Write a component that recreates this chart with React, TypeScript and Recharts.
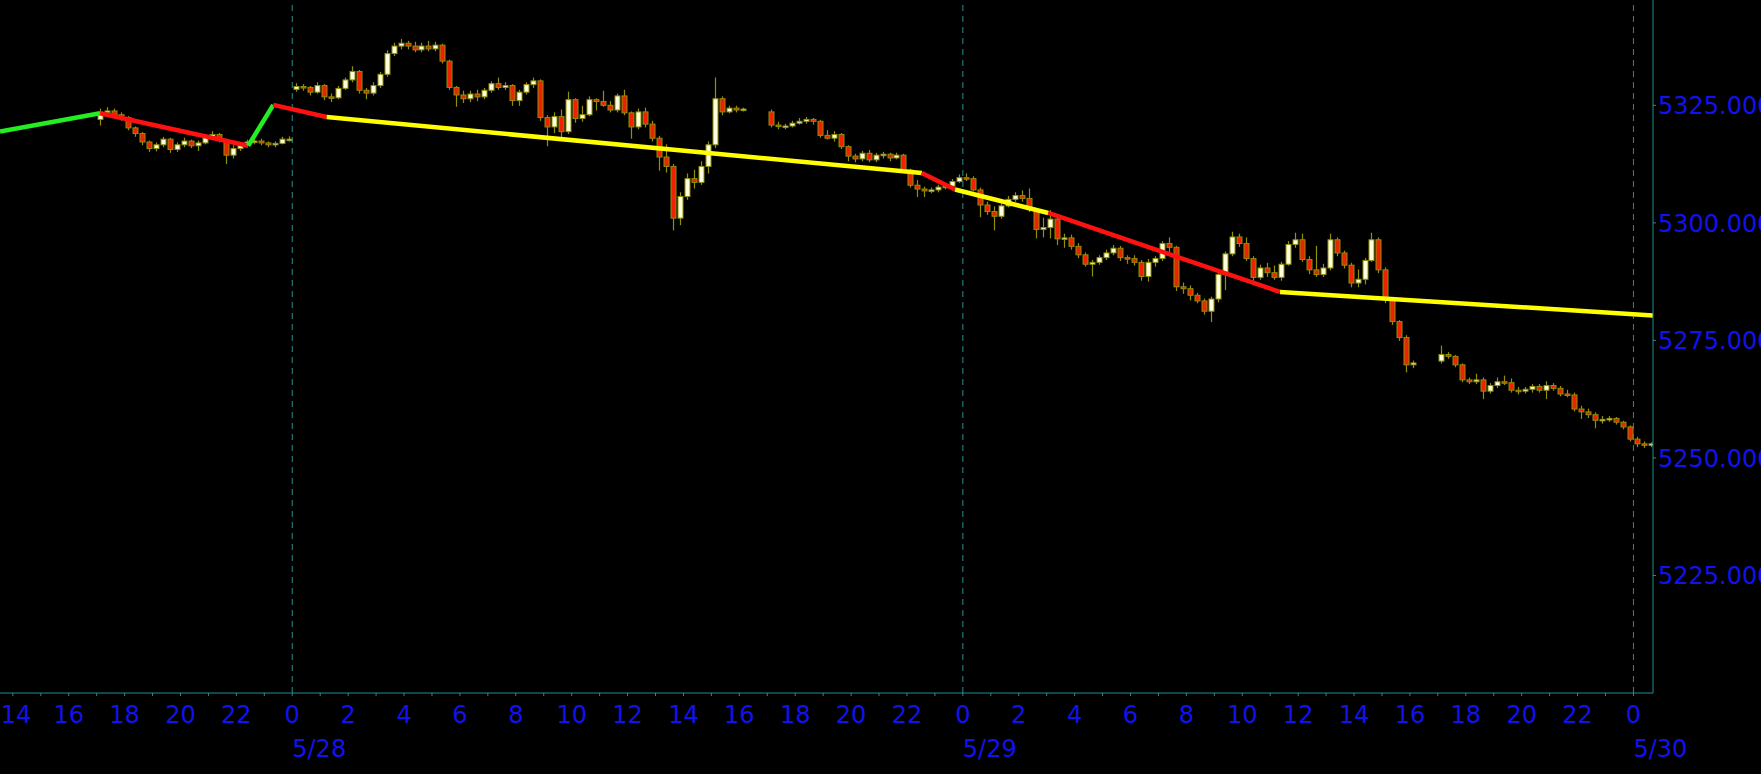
import React from 'react';
import { ComposedChart, Bar, Line, XAxis, YAxis, ReferenceLine } from 'recharts';

// [open, high, low, close], 15 minute bars
type OHLC = [number, number, number, number];

// session start, hours from 5/28 00:00
const sessionStarts = [-7, 0, 17, 41];

const session1: OHLC[] = [
  [5322.0, 5324.2, 5320.8, 5323.5], [5323.5, 5324.5, 5322.8, 5323.8], [5323.8, 5324.2, 5322.5, 5323.0],
  [5323.0, 5323.4, 5321.8, 5322.4], [5322.4, 5322.6, 5319.8, 5320.2], [5320.2, 5320.4, 5318.4, 5319.0],
  [5319.0, 5319.2, 5316.6, 5317.2], [5317.2, 5317.4, 5315.2, 5315.8], [5315.8, 5317.0, 5315.3, 5316.6],
  [5316.6, 5318.2, 5316.2, 5317.8], [5317.8, 5318.0, 5315.0, 5315.6], [5315.6, 5317.0, 5315.2, 5316.6],
  [5316.6, 5318.0, 5316.2, 5317.4], [5317.4, 5317.6, 5316.0, 5316.4], [5316.4, 5317.4, 5315.4, 5317.0],
  [5317.0, 5318.6, 5316.8, 5318.2], [5318.2, 5319.4, 5317.8, 5318.8], [5318.8, 5319.0, 5317.2, 5317.6],
  [5317.6, 5317.8, 5312.6, 5314.4], [5314.4, 5316.4, 5313.8, 5315.8], [5315.8, 5317.0, 5315.4, 5316.6],
  [5316.6, 5317.6, 5316.4, 5317.2], [5317.2, 5317.8, 5316.8, 5317.4], [5317.4, 5317.8, 5316.6, 5317.0],
  [5317.0, 5317.2, 5316.2, 5316.6], [5316.6, 5317.2, 5316.2, 5316.9], [5316.9, 5318.2, 5316.8, 5317.8],
  [5317.8, 5318.3, 5317.4, 5317.8],
];

const session2: OHLC[] = [
  [5328.4, 5329.6, 5328.0, 5329.0], [5329.0, 5329.4, 5328.2, 5328.8], [5328.8, 5329.0, 5327.2, 5327.8],
  [5327.8, 5329.8, 5327.6, 5329.2], [5329.2, 5329.4, 5326.2, 5326.8], [5326.8, 5327.4, 5325.8, 5326.6],
  [5326.6, 5329.0, 5326.4, 5328.6], [5328.6, 5330.8, 5328.4, 5330.4], [5330.4, 5333.2, 5330.0, 5332.2],
  [5332.2, 5332.4, 5327.6, 5328.2], [5328.2, 5328.6, 5326.4, 5327.6], [5327.6, 5329.8, 5327.2, 5329.2],
  [5329.2, 5332.0, 5328.8, 5331.6], [5331.6, 5336.6, 5331.2, 5336.0], [5336.0, 5338.2, 5335.6, 5337.6],
  [5337.6, 5339.0, 5337.0, 5338.2], [5338.2, 5338.6, 5337.0, 5337.6], [5337.6, 5338.4, 5336.4, 5336.8],
  [5336.8, 5338.2, 5336.4, 5337.6], [5337.6, 5338.6, 5336.6, 5337.0], [5337.0, 5338.4, 5336.6, 5337.8],
  [5337.8, 5338.0, 5334.0, 5334.4], [5334.4, 5334.6, 5328.4, 5328.8], [5328.8, 5329.0, 5324.8, 5327.2],
  [5327.2, 5328.0, 5325.6, 5326.4], [5326.4, 5328.0, 5325.8, 5327.4], [5327.4, 5328.2, 5326.0, 5326.8],
  [5326.8, 5328.6, 5326.4, 5328.2], [5328.2, 5330.0, 5327.8, 5329.6], [5329.6, 5330.8, 5328.4, 5328.8],
  [5328.8, 5329.8, 5328.4, 5329.2], [5329.2, 5329.4, 5325.0, 5326.0], [5326.0, 5328.2, 5325.0, 5327.8],
  [5327.8, 5329.8, 5327.4, 5329.4], [5329.4, 5330.8, 5328.8, 5330.2], [5330.2, 5330.4, 5321.8, 5322.4],
  [5322.4, 5322.8, 5316.4, 5320.4], [5320.4, 5323.4, 5319.2, 5322.6], [5322.6, 5324.0, 5318.2, 5319.4],
  [5319.4, 5327.8, 5319.0, 5326.2], [5326.2, 5326.4, 5321.4, 5322.2], [5322.2, 5324.8, 5321.6, 5323.0],
  [5323.0, 5326.8, 5322.8, 5326.2], [5326.2, 5326.4, 5324.0, 5325.8], [5325.8, 5328.0, 5324.8, 5325.0],
  [5325.0, 5325.8, 5323.6, 5324.0], [5324.0, 5327.4, 5323.6, 5327.0], [5327.0, 5328.2, 5323.0, 5323.4],
  [5323.4, 5323.6, 5318.0, 5320.4], [5320.4, 5324.2, 5320.0, 5323.6], [5323.6, 5324.4, 5320.4, 5321.0],
  [5321.0, 5321.6, 5317.4, 5318.0], [5318.0, 5318.4, 5311.2, 5314.0], [5314.0, 5316.6, 5310.8, 5312.0],
  [5312.0, 5312.4, 5298.5, 5301.0], [5301.0, 5306.4, 5299.6, 5305.6], [5305.6, 5310.4, 5305.0, 5309.4],
  [5309.4, 5311.2, 5307.4, 5308.6], [5308.6, 5313.0, 5308.2, 5312.0], [5312.0, 5317.2, 5310.6, 5316.6],
  [5316.6, 5330.8, 5316.0, 5326.4], [5326.4, 5326.8, 5323.0, 5323.6], [5323.6, 5324.8, 5323.4, 5324.4],
  [5324.4, 5324.8, 5323.6, 5324.0], [5324.0, 5324.4, 5323.8, 5324.2],
];

const session3: OHLC[] = [
  [5323.6, 5324.0, 5320.4, 5320.8], [5320.8, 5321.4, 5320.0, 5320.6], [5320.6, 5321.0, 5320.0, 5320.6],
  [5320.6, 5321.6, 5320.4, 5321.2], [5321.2, 5322.2, 5321.0, 5321.6], [5321.6, 5322.4, 5321.2, 5322.0],
  [5322.0, 5322.2, 5321.0, 5321.6], [5321.6, 5321.8, 5318.2, 5318.6], [5318.6, 5319.6, 5317.8, 5318.0],
  [5318.0, 5319.4, 5317.4, 5318.8], [5318.8, 5319.0, 5315.8, 5316.2], [5316.2, 5316.4, 5313.2, 5314.2],
  [5314.2, 5314.6, 5313.0, 5313.6], [5313.6, 5315.2, 5313.2, 5314.8], [5314.8, 5315.4, 5313.0, 5313.4],
  [5313.4, 5314.8, 5313.0, 5314.4], [5314.4, 5315.0, 5313.8, 5314.6], [5314.6, 5314.8, 5313.2, 5313.8],
  [5313.8, 5314.8, 5313.6, 5314.4], [5314.4, 5314.6, 5311.0, 5311.2], [5311.2, 5311.4, 5307.6, 5308.0],
  [5308.0, 5309.0, 5305.6, 5307.2], [5307.2, 5307.6, 5305.6, 5306.8], [5306.8, 5307.4, 5306.4, 5307.0],
  [5307.0, 5308.0, 5306.6, 5307.6], [5307.6, 5308.2, 5307.2, 5307.8], [5307.8, 5309.2, 5307.6, 5308.8],
  [5308.8, 5310.2, 5308.6, 5309.6], [5309.6, 5310.4, 5309.0, 5309.4], [5309.4, 5309.8, 5306.8, 5307.0],
  [5307.0, 5307.4, 5301.3, 5303.8], [5303.8, 5304.4, 5301.8, 5302.4], [5302.4, 5303.4, 5298.5, 5301.4],
  [5301.4, 5304.0, 5301.0, 5303.6], [5303.6, 5305.6, 5303.4, 5305.0], [5305.0, 5306.4, 5304.6, 5305.8],
  [5305.8, 5306.8, 5304.6, 5305.2], [5305.2, 5307.2, 5302.4, 5302.8], [5302.8, 5303.0, 5296.8, 5298.6],
  [5298.6, 5301.0, 5297.0, 5299.0], [5299.0, 5302.6, 5296.8, 5300.8], [5300.8, 5301.0, 5295.4, 5296.6],
  [5296.6, 5297.6, 5294.8, 5296.8], [5296.8, 5297.4, 5294.4, 5295.0], [5295.0, 5295.6, 5292.6, 5293.2],
  [5293.2, 5293.6, 5290.8, 5291.2], [5291.2, 5292.0, 5288.7, 5291.6], [5291.6, 5293.0, 5291.2, 5292.6],
  [5292.6, 5294.2, 5292.2, 5293.6], [5293.6, 5295.2, 5293.2, 5294.6], [5294.6, 5295.0, 5292.0, 5292.6],
  [5292.6, 5293.0, 5291.4, 5292.4], [5292.4, 5293.0, 5291.0, 5291.6], [5291.6, 5292.0, 5287.8, 5288.6],
  [5288.6, 5292.2, 5287.6, 5291.6], [5291.6, 5292.8, 5290.8, 5292.4], [5292.4, 5296.0, 5292.0, 5295.6],
  [5295.6, 5296.8, 5293.8, 5294.8], [5294.8, 5295.0, 5285.6, 5286.4], [5286.4, 5287.2, 5285.0, 5286.0],
  [5286.0, 5286.6, 5283.6, 5284.6], [5284.6, 5285.0, 5283.0, 5283.4], [5283.4, 5283.8, 5280.6, 5281.2],
  [5281.2, 5284.2, 5279.0, 5283.8], [5283.8, 5289.6, 5283.2, 5289.0], [5289.0, 5293.8, 5285.8, 5293.4],
  [5293.4, 5298.0, 5293.0, 5297.0], [5297.0, 5297.6, 5295.0, 5295.6], [5295.6, 5296.8, 5292.0, 5292.4],
  [5292.4, 5292.8, 5287.8, 5288.4], [5288.4, 5291.0, 5288.0, 5290.4], [5290.4, 5291.4, 5288.6, 5289.4],
  [5289.4, 5290.8, 5288.0, 5288.4], [5288.4, 5291.6, 5287.8, 5291.2], [5291.2, 5296.0, 5291.0, 5295.4],
  [5295.4, 5297.8, 5294.8, 5296.4], [5296.4, 5297.6, 5291.8, 5292.2], [5292.2, 5292.8, 5289.2, 5290.0],
  [5290.0, 5295.0, 5288.6, 5289.0], [5289.0, 5291.2, 5288.6, 5290.4], [5290.4, 5297.6, 5290.0, 5296.4],
  [5296.4, 5296.8, 5293.0, 5293.6], [5293.6, 5294.0, 5290.4, 5291.0], [5291.0, 5291.4, 5286.4, 5287.2],
  [5287.2, 5290.0, 5286.4, 5288.0], [5288.0, 5292.4, 5287.0, 5292.0], [5292.0, 5297.8, 5291.8, 5296.4],
  [5296.4, 5296.8, 5289.4, 5290.0], [5290.0, 5290.4, 5283.0, 5283.6], [5283.6, 5283.8, 5278.4, 5279.0],
  [5279.0, 5279.2, 5275.0, 5275.6], [5275.6, 5276.0, 5268.3, 5269.8], [5269.8, 5270.6, 5269.2, 5270.2],
];

const session4: OHLC[] = [
  [5270.6, 5273.8, 5270.2, 5272.0], [5272.0, 5272.4, 5271.2, 5271.6], [5271.6, 5271.8, 5269.4, 5269.8],
  [5269.8, 5270.0, 5266.2, 5266.6], [5266.6, 5267.0, 5265.8, 5266.2], [5266.2, 5267.8, 5265.8, 5266.6],
  [5266.6, 5267.0, 5262.6, 5264.2], [5264.2, 5265.8, 5263.8, 5265.4], [5265.4, 5267.0, 5265.0, 5266.2],
  [5266.2, 5267.4, 5265.6, 5266.0], [5266.0, 5266.8, 5264.0, 5264.4], [5264.4, 5265.0, 5263.6, 5264.2],
  [5264.2, 5265.0, 5263.8, 5264.6], [5264.6, 5265.6, 5264.0, 5265.2], [5265.2, 5265.6, 5264.0, 5264.4],
  [5264.4, 5266.2, 5262.6, 5265.4], [5265.4, 5265.8, 5264.4, 5264.8], [5264.8, 5265.2, 5263.2, 5263.6],
  [5263.6, 5264.4, 5263.0, 5263.4], [5263.4, 5263.8, 5260.0, 5260.4], [5260.4, 5261.0, 5258.4, 5259.8],
  [5259.8, 5260.4, 5258.6, 5259.2], [5259.2, 5259.6, 5256.4, 5258.0], [5258.0, 5258.8, 5257.4, 5258.2],
  [5258.2, 5258.8, 5257.8, 5258.4], [5258.4, 5258.6, 5257.2, 5257.6], [5257.6, 5257.8, 5256.2, 5256.6],
  [5256.6, 5256.8, 5253.6, 5254.0], [5254.0, 5254.4, 5252.4, 5253.0], [5253.0, 5253.4, 5252.2, 5252.8],
  [5252.8, 5253.2, 5252.4, 5253.0],
];

// zigzag pivots (hours from 5/28 00:00, price) and direction of each leg
const zigTimes = [-10.46, -6.88, -1.575, -0.68, 1.23, 22.53, 23.72, 27.06, 35.35, 48.7];
const zigValues = [5319.4, 5323.3, 5316.4, 5325.1, 5322.5, 5310.6, 5307.1, 5302.1, 5285.3, 5280.3];
const zigTrend = ['up', 'down', 'up', 'down', 'flat', 'down', 'flat', 'down', 'flat'];

const dayTicks = [0, 24, 48];
const dayLabels = ['5/28', '5/29', '5/30'];
const priceTicks = [5225, 5250, 5275, 5300, 5325];

const BLUE = '#1212ee';
const TEAL = '#2a8c8c';
const WICK = '#8f8f0a';
const UP = '#fffde0';
const DOWN = '#ee2200';
const FONT = "'DejaVu Sans', Verdana, sans-serif";
const BODY_W = 5;
const trendColor: Record<string, string> = { up: '#22ee22', down: '#ff1111', flat: '#ffff00' };

const sessions = [session1, session2, session3, session4];
const candles = sessions.flatMap((bars, s) =>
  bars.map(([o, h, l, c], i) => ({ t: sessionStarts[s] + i * 0.25 + 0.125, o, h, l, c }))
);

const zigLegs = zigTrend.map((trend, i) => ({
  trend,
  pts: [
    { t: zigTimes[i], v: zigValues[i] },
    { t: zigTimes[i + 1], v: zigValues[i + 1] },
  ],
}));

const hourTicks = Array.from({ length: 59 }, (_, i) => i - 10);

const Candle = (props: any) => {
  const { x, y, width, height, payload } = props;
  if (x == null || y == null || !payload) return null;
  const top = Math.min(y, y + height);
  const span = Math.abs(height);
  const { o, h, l, c } = payload;
  const toY = (p: number) => (h === l ? top : top + ((h - p) / (h - l)) * span);
  const cx = Math.round(x + (width || 0) / 2) + 0.5;
  const yo = toY(o);
  const yc = toY(c);
  const bodyTop = Math.min(yo, yc);
  const bodyH = Math.max(1.5, Math.abs(yc - yo));
  return (
    <g>
      <line x1={cx} x2={cx} y1={top - 0.5} y2={top + span + 0.5} stroke={WICK} strokeWidth={1.2} />
      <rect x={cx - BODY_W / 2} y={bodyTop} width={BODY_W} height={bodyH}
        fill={c >= o ? UP : DOWN} stroke={WICK} strokeWidth={1} />
    </g>
  );
};

const HourTick = (props: any) => {
  const { x, y, payload } = props;
  const v = payload.value;
  const hour = ((v % 24) + 24) % 24;
  const d = dayTicks.indexOf(v);
  return (
    <g>
      {hour % 2 === 0 && (
        <text x={Math.max(x, 16)} y={y + 27} textAnchor="middle" fill={BLUE} fontSize={24} fontFamily={FONT}>
          {hour}
        </text>
      )}
      {d >= 0 && (
        <text x={x} y={y + 61} textAnchor="start" fill={BLUE} fontSize={24} fontFamily={FONT}>
          {dayLabels[d]}
        </text>
      )}
    </g>
  );
};

const PriceTick = (props: any) => {
  const { x, y, payload } = props;
  return (
    <text x={x} y={y + 9} textAnchor="start" fill={BLUE} fontSize={24} fontFamily={FONT}>
      {Number(payload.value).toFixed(3)}
    </text>
  );
};

export default function App() {
  return (
    <div style={{ position: 'absolute', left: 0, top: 0, width: 1761, height: 774, background: '#000' }}>
      <ComposedChart width={1761} height={774} data={candles} margin={{ top: 0, right: 0, bottom: 0, left: 0 }}>
        <XAxis
          dataKey="t"
          type="number"
          domain={[-10.46, 48.7]}
          allowDataOverflow
          ticks={hourTicks}
          interval={0}
          height={81}
          tickSize={3}
          tickMargin={0}
          axisLine={{ stroke: TEAL }}
          tickLine={{ stroke: TEAL }}
          tick={<HourTick />}
        />
        <YAxis
          orientation="right"
          type="number"
          domain={[5200, 5347.4]}
          allowDataOverflow
          ticks={priceTicks}
          width={108}
          tickSize={3}
          tickMargin={2}
          axisLine={{ stroke: TEAL }}
          tickLine={{ stroke: TEAL }}
          tick={<PriceTick />}
        />
        {dayTicks.map((d) => (
          <ReferenceLine key={d} x={d} stroke={TEAL} strokeDasharray="6 5" />
        ))}
        <Bar
          dataKey={(d: any) => [d.l, d.h]}
          barSize={5}
          shape={<Candle />}
          isAnimationActive={false}
        />
        {zigLegs.map((leg, i) => (
          <Line
            key={i}
            data={leg.pts}
            dataKey="v"
            type="linear"
            stroke={trendColor[leg.trend]}
            strokeWidth={4.5}
            dot={false}
            activeDot={false}
            isAnimationActive={false}
          />
        ))}
      </ComposedChart>
    </div>
  );
}
